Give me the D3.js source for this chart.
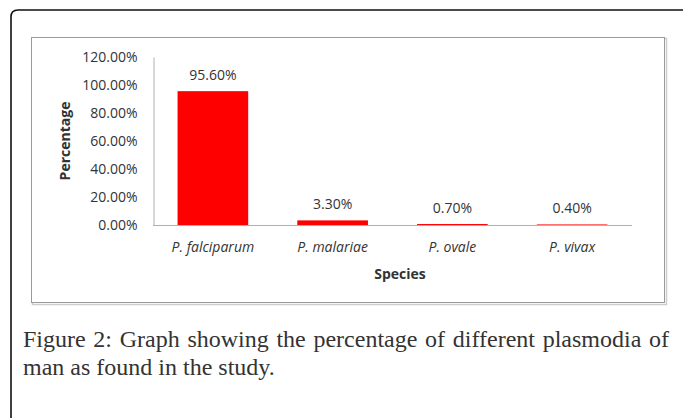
<!DOCTYPE html>
<html lang="en">
<head>
<meta charset="utf-8">
<script src="https://cdn.jsdelivr.net/npm/d3@7"></script>
<style>
  body { margin: 0; background: #fff; }
  svg text { fill: #333; }
</style>
</head>
<body>
<svg id="chart" width="683" height="418"></svg>
<script>
"use strict";

// values
const species = ["P. falciparum", "P. malariae", "P. ovale", "P. vivax"];
const percent = [95.6, 3.3, 0.7, 0.4];
const yTicks = [0, 20, 40, 60, 80, 100, 120];
const caption = ["Figure 2: Graph showing the percentage of different plasmodia of",
                 "man as found in the study."];

const svg = d3.select("#chart");
const chartFont = "'Open Sans'";

// outer page frame (runs off right/bottom edges)
svg.append("path")
  .attr("d", "M11,430 L11,17 Q11,10 18,10 L690,10")
  .attr("fill", "none").attr("stroke", "#111").attr("stroke-width", 1.6);

// chart area box with a faint shadow
svg.append("rect").attr("x", 32.5).attr("y", 38.5).attr("width", 634).attr("height", 266)
  .attr("fill", "none").attr("stroke", "#ccc").attr("stroke-width", 1.5);
svg.append("rect").attr("x", 31.5).attr("y", 37.5).attr("width", 633).attr("height", 265)
  .attr("fill", "#fff").attr("stroke", "#9a9a9a");

const x = d3.scaleBand().domain(species).range([153, 632]).paddingInner(0.41).paddingOuter(0.205);
const y = d3.scaleLinear().domain([0, 120]).range([225, 57]);

// bars
svg.append("g").selectAll("rect").data(percent).join("rect")
  .attr("x", (d, i) => x(species[i]))
  .attr("y", d => y(d))
  .attr("width", x.bandwidth())
  .attr("height", d => y(0) - y(d))
  .attr("fill", "#ff0000");

// value labels
svg.append("g").selectAll("text").data(percent).join("text")
  .attr("x", (d, i) => x(species[i]) + x.bandwidth() / 2)
  .attr("y", d => y(d) - 11)
  .attr("text-anchor", "middle")
  .style("font", "14px " + chartFont)
  .text(d => d.toFixed(2) + "%");

// y axis
const yAxis = svg.append("g").attr("transform", "translate(153.5,0)")
  .call(d3.axisLeft(y).tickValues(yTicks).tickSize(0).tickPadding(16)
    .tickFormat(d => d.toFixed(2) + "%"));
yAxis.select(".domain").attr("stroke", "#b0b0b0");
yAxis.selectAll("text").style("font", "14px " + chartFont).attr("fill", "#333");

// x axis
const xAxis = svg.append("g").attr("transform", "translate(0,225.5)")
  .call(d3.axisBottom(x).tickSize(0).tickPadding(17));
xAxis.select(".domain").attr("stroke", "#b0b0b0").attr("d", "M153,0H632");
xAxis.selectAll("text").style("font", "italic 14px " + chartFont).attr("fill", "#222");

// axis titles
svg.append("text").attr("x", 400).attr("y", 279).attr("text-anchor", "middle")
  .style("font", "bold 14px " + chartFont).attr("fill", "#222").text("Species");
svg.append("text").attr("transform", "translate(70,141) rotate(-90)").attr("text-anchor", "middle")
  .style("font", "bold 14px " + chartFont).attr("fill", "#222").text("Percentage");

// caption, first line justified
const capFont = "24px 'Liberation Serif'";
const left = 23, right = 669;
const words = caption[0].split(" ");
const g1 = svg.append("g");
const wEls = words.map(w => g1.append("text").style("font", capFont).attr("fill", "#111").attr("y", 347).text(w));
const widths = wEls.map(t => t.node().getComputedTextLength());
const gap = Math.max(4, (right - left - d3.sum(widths)) / (words.length - 1));
let cx = left;
wEls.forEach((t, i) => { t.attr("x", cx); cx += widths[i] + gap; });
svg.append("text").attr("x", left).attr("y", 375).style("font", capFont).attr("fill", "#111").text(caption[1]);
</script>
</body>
</html>
